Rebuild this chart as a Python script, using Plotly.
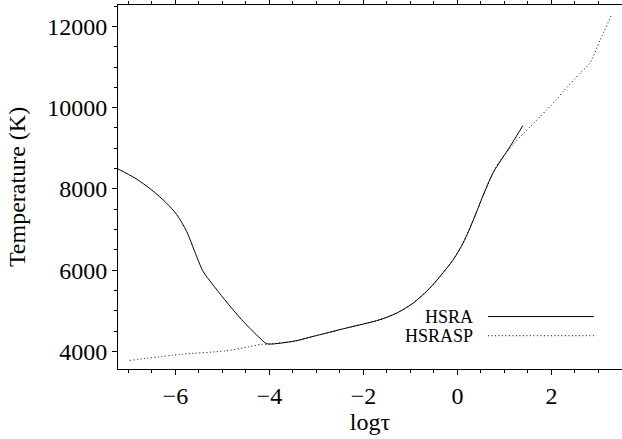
import plotly.graph_objects as go

# HSRA temperature stratification (log optical depth vs temperature)
hsra_logtau = [-7.22, -6.86, -6.51, -6.19, -5.97, -5.76, -5.59, -5.41, -5.23, -4.95,
               -4.59, -4.24, -4.06, -3.95, -3.46, -3.07, -2.36, -1.65, -1.29, -0.94,
               -0.585, -0.37, -0.09, 0.12, 0.34, 0.55, 0.76, 1.12, 1.39]
hsra_temp = [8490, 8268, 7980, 7653, 7365, 6954, 6462, 5969, 5684, 5273,
             4780, 4369, 4190, 4182, 4256, 4369, 4576, 4780, 4945, 5191,
             5560, 5846, 6257, 6668, 7242, 7850, 8400, 9046, 9556]

# HSRASP model
hsrasp_logtau = [-6.97, -5.87, -4.95, -4.45, -4.17, -4.00, -3.46, -3.07, -2.36, -1.65,
                 -1.29, -0.94, -0.585, -0.37, -0.09, 0.12, 0.34, 0.55, 0.70,
                 0.87, 1.19, 1.40, 1.54, 1.76, 1.90, 2.11, 2.25, 2.61, 2.82, 3.03, 3.28]
hsrasp_temp = [3778, 3930, 4010, 4110, 4175, 4180, 4256, 4369, 4576, 4780,
               4945, 5191, 5560, 5846, 6257, 6668, 7242, 7850, 8250,
               8640, 9100, 9360, 9520, 9780, 9950, 10200, 10400, 10850, 11100, 11650, 12290]

legend_names = ["HSRA", "HSRASP"]
DOT = "1px,2.5px"
legend_dash = ["solid", DOT]

FONT = "Liberation Serif"

fig = go.Figure()
fig.add_trace(go.Scatter(x=hsra_logtau, y=hsra_temp, mode="lines", name="HSRA",
                         line=dict(color="black", width=1, dash="solid",
                                   shape="spline", smoothing=0.8),
                         showlegend=False))
fig.add_trace(go.Scatter(x=hsrasp_logtau, y=hsrasp_temp, mode="lines", name="HSRASP",
                         line=dict(color="black", width=1, dash=DOT,
                                   shape="spline", smoothing=0.6),
                         showlegend=False))

# Legend drawn with labels to the left of the line samples
legend_y = [0.144, 0.0915]
for name, dash, ly in zip(legend_names, legend_dash, legend_y):
    fig.add_annotation(x=0.708, y=ly, xref="paper", yref="paper", text=name,
                       showarrow=False, xanchor="right", yanchor="middle",
                       font=dict(family=FONT, size=18, color="black"))
    fig.add_shape(type="line", xref="paper", yref="paper", x0=0.734, x1=0.944,
                  y0=ly, y1=ly, line=dict(color="black", width=1, dash=dash))

axis_common = dict(showgrid=False, zeroline=False, showline=True, linecolor="black",
                   linewidth=1, ticks="outside", ticklen=5, tickwidth=1,
                   tickcolor="black",
                   tickfont=dict(family=FONT, size=24, color="black"))

fig.update_xaxes(range=[-7.22, 3.5], tick0=0, dtick=2, mirror="ticks",
                 minor=dict(ticks="outside", ticklen=3, dtick=0.5, tick0=0,
                            tickcolor="black"),
                 title=dict(text="logτ", font=dict(family=FONT, size=24, color="black"),
                            standoff=2),
                 **axis_common)
fig.update_yaxes(range=[3567, 12527], tick0=0, dtick=2000, tickformat="d",
                 minor=dict(ticks="outside", ticklen=3, dtick=500, tick0=0,
                            tickcolor="black"),
                 title=dict(text="Temperature (K)",
                            font=dict(family=FONT, size=24, color="black"), standoff=14),
                 **axis_common)

fig.update_layout(width=622, height=439, margin=dict(l=118, r=0, t=5, b=70),
                  plot_bgcolor="white", paper_bgcolor="white",
                  font=dict(family=FONT, color="black"))

fig.write_html("out.html")
